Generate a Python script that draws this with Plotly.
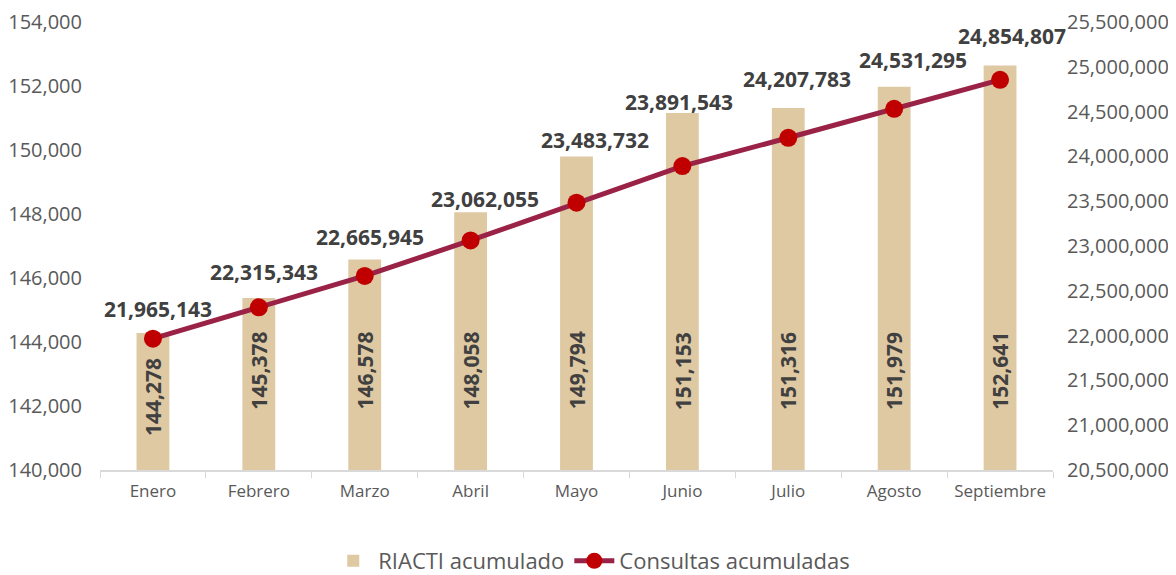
import plotly.graph_objects as go

months = ["Enero", "Febrero", "Marzo", "Abril", "Mayo", "Junio", "Julio", "Agosto", "Septiembre"]
riacti = [144278, 145378, 146578, 148058, 149794, 151153, 151316, 151979, 152641]
consultas = [21965143, 22315343, 22665945, 23062055, 23483732, 23891543, 24207783, 24531295, 24854807]

left_ticks = list(range(140000, 154001, 2000))
right_ticks = list(range(20500000, 25500001, 500000))
BASE = left_ticks[0]

# label placement offsets (pixels) for the line value labels, as in the original
label_dx = [5, 5, 5, 14, 18, -3, 9, 19, 12]
label_dy = [29, 34, 38, 40, 62, 63, 58, 48, 43]

FONT = "Open Sans"
DARK = "#404040"
fig = go.Figure()
fig.add_trace(go.Bar(
    x=months, y=[v - BASE for v in riacti], base=BASE, name="RIACTI acumulado",
    marker=dict(color="#DFC9A3", line=dict(width=0)),
    yaxis="y",
))
fig.add_trace(go.Scatter(
    x=months, y=consultas, name="Consultas acumuladas",
    mode="lines+markers",
    line=dict(color="#9B2247", width=5),
    marker=dict(color="#C00000", size=18),
    cliponaxis=False,
    yaxis="y2",
))

# rotated value labels inside the bars
for m, v in zip(months, riacti):
    ypos = min(143100, v - 2000)
    fig.add_annotation(x=m, y=ypos, xref="x", yref="y", text=f"{v:,}",
                       textangle=-90, showarrow=False,
                       xanchor="center", yanchor="middle",
                       font=dict(family=FONT, size=21, color=DARK, weight="bold"))

# value labels above the line points
for m, v, dx, dy in zip(months, consultas, label_dx, label_dy):
    fig.add_annotation(x=m, y=v, xref="x", yref="y2", text=f"{v:,}",
                       showarrow=False, xanchor="center", yanchor="middle",
                       xshift=dx, yshift=dy + 1,
                       font=dict(family=FONT, size=21, color=DARK, weight="bold"))

fig.update_layout(
    width=1168, height=567,
    margin=dict(l=92, r=123, t=14, b=105, autoexpand=False),
    paper_bgcolor="white", plot_bgcolor="white",
    font=dict(family=FONT, color="#595959"),
    bargap=0.69,
    showlegend=True,
    legend=dict(orientation="h", x=0.516, xanchor="center", y=-0.203, yanchor="middle",
                font=dict(size=22, color="#595959"), itemwidth=40),
    xaxis=dict(range=[-0.5, 8.5], showline=True, linecolor="#D9D9D9", linewidth=2,
               ticks="outside", tickson="boundaries", ticklen=6, tickcolor="#D9D9D9",
               tickfont=dict(size=17, color="#595959"), showgrid=False, automargin=False,
               ticklabelstandoff=5),
    yaxis=dict(range=[140000, 154000], tickvals=left_ticks,
               ticktext=[f"{v:,}" for v in left_ticks],
               tickfont=dict(size=20, color="#595959"), showgrid=False,
               zeroline=False, showline=False, ticklabelstandoff=17, automargin=False),
    yaxis2=dict(range=[20500000, 25500000], tickvals=right_ticks,
                ticktext=[f"{v:,}" for v in right_ticks],
                overlaying="y", side="right",
                tickfont=dict(size=20, color="#595959"), showgrid=False,
                zeroline=False, showline=False, ticklabelstandoff=13, automargin=False),
)

fig.write_html("out.html")
